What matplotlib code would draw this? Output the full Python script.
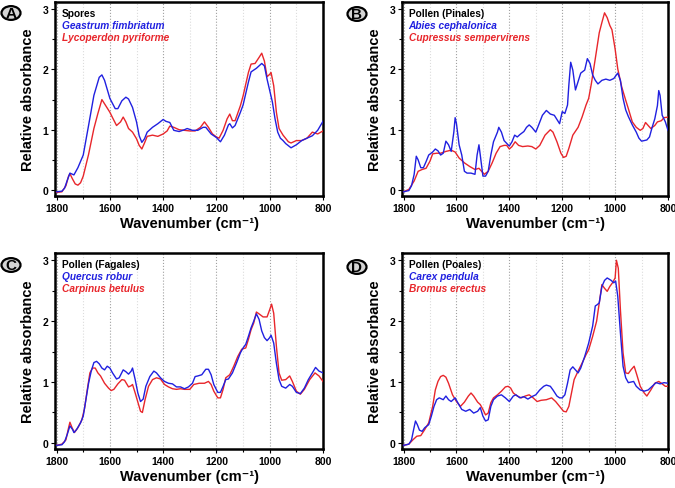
import matplotlib
matplotlib.use("Agg")
import matplotlib.pyplot as plt
from matplotlib.patches import Circle
from matplotlib.ticker import MultipleLocator

plt.rcParams['font.family'] = ['Liberation Sans', 'DejaVu Sans']
plt.rcParams['font.weight'] = 'bold'

BLUE = '#2020e0'
RED = '#e8262b'

# ---- panel A: spores
geastrum_wn = [1800, 1780, 1770, 1760, 1750, 1745, 1735, 1720, 1700, 1680, 1660, 1640, 1630, 1620, 1600,
               1580, 1570, 1555, 1540, 1530, 1515, 1500, 1490, 1480, 1470, 1460, 1440, 1420, 1400, 1390,
               1375, 1360, 1340, 1320, 1310, 1290, 1270, 1250, 1240, 1220, 1200, 1185, 1170, 1155, 1150,
               1140, 1130, 1110, 1100, 1080, 1070, 1050, 1030, 1020, 1010, 1000, 990, 980, 970, 960,
               950, 940, 920, 900, 880, 860, 840, 820, 800]
geastrum_ab = [-0.03, -0.02, 0.03, 0.16, 0.28, 0.27, 0.25, 0.37, 0.58, 1.07, 1.57, 1.87, 1.91, 1.82, 1.52,
               1.35, 1.35, 1.48, 1.54, 1.51, 1.37, 1.13, 0.90, 0.79, 0.85, 0.96, 1.04, 1.10, 1.17, 1.14,
               1.12, 0.99, 0.97, 1.00, 1.02, 0.99, 0.99, 1.04, 1.04, 0.93, 0.87, 0.80, 0.91, 1.08, 1.10,
               1.03, 1.07, 1.29, 1.41, 1.79, 1.96, 2.02, 2.10, 2.06, 1.84, 1.65, 1.46, 1.18, 0.96, 0.86,
               0.82, 0.77, 0.70, 0.75, 0.82, 0.86, 0.90, 0.99, 1.14]
lycoperdon_wn = [1800, 1780, 1765, 1755, 1750, 1740, 1730, 1720, 1710, 1700, 1680, 1660, 1645, 1630, 1620,
                 1600, 1590, 1575, 1560, 1550, 1540, 1530, 1515, 1500, 1490, 1480, 1470, 1460, 1440, 1420,
                 1400, 1385, 1375, 1360, 1340, 1320, 1300, 1280, 1260, 1245, 1230, 1215, 1200, 1190, 1175,
                 1160, 1150, 1140, 1130, 1110, 1100, 1080, 1070, 1055, 1040, 1030, 1020, 1010, 1000, 995,
                 985, 975, 965, 950, 930, 920, 900, 880, 860, 840, 820, 800]
lycoperdon_ab = [-0.04, -0.03, 0.07, 0.23, 0.27, 0.18, 0.10, 0.08, 0.12, 0.23, 0.59, 1.02, 1.27, 1.50, 1.43,
                 1.29, 1.20, 1.07, 1.13, 1.21, 1.13, 1.02, 0.96, 0.85, 0.74, 0.68, 0.78, 0.89, 0.91, 0.89,
                 0.93, 0.98, 1.06, 1.04, 1.00, 0.99, 0.98, 0.98, 1.04, 1.13, 1.04, 0.93, 0.88, 0.86, 0.99,
                 1.18, 1.26, 1.15, 1.15, 1.40, 1.56, 1.95, 2.09, 2.10, 2.20, 2.27, 2.14, 1.88, 1.92, 1.95,
                 1.73, 1.29, 1.02, 0.91, 0.80, 0.78, 0.82, 0.82, 0.86, 0.96, 0.93, 0.98]

# ---- panel B: pollen (Pinales)
abies_wn = [1800, 1780, 1770, 1760, 1752, 1745, 1735, 1725, 1715, 1705, 1690, 1680, 1670, 1660, 1650,
            1640, 1630, 1620, 1610, 1605, 1600, 1590, 1580, 1570, 1560, 1545, 1530, 1522, 1515, 1510,
            1500, 1490, 1480, 1470, 1460, 1445, 1440, 1430, 1420, 1405, 1400, 1390, 1380, 1370, 1360,
            1345, 1335, 1325, 1315, 1300, 1290, 1275, 1260, 1245, 1230, 1220, 1210, 1200, 1190, 1180,
            1175, 1168, 1160, 1150, 1140, 1130, 1115, 1105, 1095, 1085, 1075, 1065, 1050, 1035, 1020,
            1005, 990, 980, 970, 960, 950, 935, 920, 910, 900, 880, 870, 860, 850, 840,
            835, 830, 822, 810, 800]
abies_ab = [-0.03, -0.01, 0.07, 0.26, 0.56, 0.50, 0.37, 0.37, 0.47, 0.58, 0.63, 0.68, 0.65, 0.58, 0.61,
            0.81, 0.75, 0.64, 0.96, 1.20, 1.10, 0.75, 0.58, 0.31, 0.28, 0.28, 0.26, 0.58, 0.75, 0.58,
            0.23, 0.23, 0.31, 0.58, 0.80, 0.96, 1.04, 0.96, 0.82, 0.75, 0.73, 0.80, 0.91, 0.88, 0.92,
            0.97, 1.04, 1.08, 1.04, 0.96, 1.07, 1.24, 1.32, 1.26, 1.24, 1.17, 1.10, 1.30, 1.27, 1.41,
            1.74, 2.12, 1.99, 1.66, 1.80, 1.94, 1.99, 2.18, 2.10, 1.91, 1.82, 1.76, 1.82, 1.84, 1.82,
            1.85, 1.94, 1.82, 1.52, 1.33, 1.22, 1.08, 0.96, 0.86, 0.81, 0.83, 0.88, 1.04, 1.18, 1.40,
            1.65, 1.57, 1.24, 1.13, 0.99]
cupressus_wn = [1800, 1780, 1760, 1745, 1730, 1715, 1700, 1690, 1675, 1660, 1640, 1620, 1605, 1590, 1570,
                1550, 1530, 1515, 1505, 1495, 1480, 1465, 1450, 1435, 1420, 1410, 1400, 1390, 1378, 1365,
                1350, 1330, 1315, 1300, 1285, 1265, 1245, 1235, 1220, 1205, 1195, 1185, 1175, 1160, 1140,
                1125, 1110, 1100, 1090, 1075, 1060, 1050, 1040, 1030, 1020, 1012, 1000, 990, 975, 960,
                950, 935, 920, 905, 895, 885, 875, 865, 850, 840, 825, 815, 800]
cupressus_ab = [-0.03, 0.01, 0.15, 0.31, 0.34, 0.36, 0.48, 0.60, 0.61, 0.61, 0.64, 0.66, 0.63, 0.53, 0.45,
                0.39, 0.34, 0.36, 0.31, 0.26, 0.31, 0.45, 0.61, 0.72, 0.74, 0.74, 0.68, 0.72, 0.80, 0.74,
                0.72, 0.73, 0.72, 0.68, 0.74, 0.91, 1.00, 0.96, 0.80, 0.61, 0.54, 0.56, 0.69, 0.91, 1.04,
                1.21, 1.41, 1.52, 1.76, 2.18, 2.61, 2.78, 2.94, 2.86, 2.73, 2.66, 2.34, 2.01, 1.71, 1.49,
                1.35, 1.13, 1.04, 0.99, 1.02, 1.12, 1.07, 1.02, 1.07, 1.13, 1.15, 1.20, 1.21]

# ---- panel C: pollen (Fagales)
quercus_wn = [1800, 1780, 1770, 1760, 1750, 1740, 1735, 1725, 1710, 1700, 1690, 1680, 1670, 1660, 1650,
              1640, 1630, 1620, 1610, 1600, 1590, 1575, 1565, 1550, 1540, 1530, 1520, 1515, 1505, 1495,
              1485, 1475, 1465, 1450, 1435, 1425, 1410, 1395, 1380, 1365, 1350, 1335, 1320, 1305, 1290,
              1280, 1270, 1255, 1240, 1230, 1220, 1210, 1195, 1185, 1175, 1165, 1155, 1140, 1125, 1110,
              1100, 1090, 1080, 1070, 1060, 1050, 1040, 1030, 1020, 1010, 1000, 995, 985, 975, 965,
              955, 940, 925, 915, 900, 885, 870, 855, 840, 828, 815, 800]
quercus_ab = [-0.04, -0.03, 0.02, 0.14, 0.28, 0.22, 0.17, 0.22, 0.33, 0.44, 0.71, 0.98, 1.18, 1.32, 1.34,
              1.30, 1.23, 1.20, 1.26, 1.23, 1.15, 1.05, 1.07, 1.20, 1.17, 1.13, 1.18, 1.23, 1.04, 0.82,
              0.68, 0.72, 0.93, 1.09, 1.18, 1.15, 1.07, 1.01, 0.98, 0.97, 0.92, 0.92, 0.89, 0.92, 0.98,
              1.09, 1.10, 1.12, 1.21, 1.21, 1.12, 0.96, 0.83, 0.83, 0.93, 1.04, 1.05, 1.15, 1.31, 1.48,
              1.56, 1.62, 1.75, 1.89, 2.00, 2.12, 2.03, 1.84, 1.73, 1.68, 1.73, 1.77, 1.64, 1.31, 1.04,
              0.93, 0.90, 0.96, 0.93, 0.83, 0.81, 0.90, 1.04, 1.15, 1.24, 1.18, 1.15]
carpinus_wn = [1800, 1780, 1765, 1755, 1750, 1742, 1733, 1720, 1705, 1695, 1685, 1675, 1665, 1655, 1645,
               1635, 1620, 1605, 1595, 1585, 1570, 1555, 1545, 1530, 1520, 1515, 1505, 1495, 1485, 1478,
               1468, 1455, 1440, 1425, 1410, 1395, 1380, 1365, 1350, 1335, 1320, 1300, 1285, 1265, 1245,
               1230, 1220, 1210, 1195, 1185, 1175, 1165, 1150, 1135, 1120, 1105, 1090, 1080, 1070, 1060,
               1050, 1040, 1025, 1010, 1000, 993, 985, 975, 965, 955, 940, 925, 915, 900, 885,
               870, 850, 830, 815, 800]
carpinus_ab = [-0.04, -0.02, 0.05, 0.25, 0.34, 0.25, 0.17, 0.25, 0.38, 0.57, 0.87, 1.15, 1.23, 1.23, 1.15,
               1.10, 0.98, 0.90, 0.86, 0.88, 0.97, 1.04, 1.03, 0.92, 0.94, 0.96, 0.82, 0.67, 0.52, 0.50,
               0.71, 0.93, 1.04, 1.07, 1.05, 0.96, 0.92, 0.89, 0.88, 0.89, 0.88, 0.88, 0.96, 0.98, 0.98,
               1.01, 0.96, 0.85, 0.74, 0.74, 0.88, 1.07, 1.12, 1.26, 1.42, 1.54, 1.56, 1.70, 1.86, 1.97,
               2.15, 2.12, 2.07, 2.07, 2.19, 2.28, 2.13, 1.59, 1.15, 1.03, 1.04, 1.10, 1.01, 0.85, 0.80,
               0.88, 1.04, 1.15, 1.10, 1.01]

# ---- panel D: pollen (Poales)
carex_wn = [1800, 1780, 1770, 1762, 1755, 1748, 1740, 1730, 1720, 1705, 1695, 1685, 1675, 1665, 1650,
            1640, 1630, 1620, 1605, 1595, 1580, 1565, 1550, 1535, 1520, 1510, 1500, 1490, 1480, 1470,
            1460, 1445, 1430, 1415, 1400, 1385, 1375, 1360, 1345, 1330, 1315, 1300, 1285, 1270, 1260,
            1245, 1235, 1220, 1210, 1200, 1190, 1180, 1170, 1160, 1150, 1140, 1130, 1115, 1100, 1085,
            1075, 1068, 1060, 1050, 1040, 1030, 1015, 1005, 998, 990, 980, 970, 960, 950, 940,
            930, 920, 905, 890, 875, 860, 845, 830, 815, 800]
carex_ab = [-0.04, -0.02, 0.05, 0.22, 0.36, 0.30, 0.21, 0.19, 0.25, 0.30, 0.44, 0.60, 0.71, 0.74, 0.71,
            0.77, 0.71, 0.68, 0.74, 0.66, 0.55, 0.52, 0.55, 0.49, 0.52, 0.58, 0.44, 0.36, 0.38, 0.60,
            0.71, 0.77, 0.79, 0.74, 0.68, 0.77, 0.79, 0.74, 0.76, 0.72, 0.76, 0.79, 0.87, 0.93, 0.95,
            0.93, 0.87, 0.77, 0.74, 0.74, 0.79, 0.98, 1.20, 1.25, 1.20, 1.15, 1.23, 1.42, 1.64, 1.92,
            2.25, 2.27, 2.30, 2.57, 2.67, 2.71, 2.67, 2.63, 2.66, 2.41, 1.81, 1.26, 1.07, 0.99, 1.00,
            1.01, 0.93, 0.87, 0.85, 0.87, 0.93, 0.99, 0.97, 0.99, 0.98]
bromus_wn = [1800, 1780, 1765, 1750, 1735, 1720, 1705, 1690, 1680, 1670, 1660, 1650, 1640, 1630, 1615,
             1600, 1585, 1570, 1555, 1545, 1535, 1520, 1510, 1500, 1490, 1480, 1470, 1460, 1445, 1430,
             1415, 1405, 1395, 1385, 1370, 1355, 1340, 1325, 1310, 1295, 1280, 1260, 1240, 1225, 1210,
             1195, 1185, 1175, 1165, 1155, 1140, 1125, 1110, 1100, 1085, 1070, 1060, 1050, 1040, 1030,
             1020, 1010, 1000, 995, 988, 980, 970, 960, 950, 940, 928, 918, 905, 890, 880,
             865, 850, 835, 825, 810, 800]
bromus_ab = [-0.04, -0.02, 0.05, 0.11, 0.12, 0.22, 0.33, 0.60, 0.87, 1.01, 1.09, 1.11, 1.08, 0.98, 0.79,
             0.68, 0.60, 0.67, 0.77, 0.82, 0.77, 0.67, 0.63, 0.55, 0.46, 0.49, 0.66, 0.74, 0.79, 0.85,
             0.92, 0.93, 0.90, 0.82, 0.77, 0.74, 0.77, 0.79, 0.74, 0.68, 0.70, 0.71, 0.74, 0.68, 0.60,
             0.52, 0.51, 0.60, 0.82, 1.04, 1.18, 1.31, 1.45, 1.53, 1.75, 2.00, 2.30, 2.60, 2.54, 2.49,
             2.57, 2.63, 2.71, 3.00, 2.87, 2.19, 1.48, 1.15, 1.14, 1.20, 1.26, 1.12, 0.93, 0.82, 0.77,
             0.87, 0.98, 1.01, 0.98, 0.93, 0.93]

panels = [
    ('A', 'Spores', 'Geastrum fimbriatum', geastrum_wn, geastrum_ab,
     'Lycoperdon pyriforme', lycoperdon_wn, lycoperdon_ab),
    ('B', 'Pollen (Pinales)', 'Abies cephalonica', abies_wn, abies_ab,
     'Cupressus sempervirens', cupressus_wn, cupressus_ab),
    ('C', 'Pollen (Fagales)', 'Quercus robur', quercus_wn, quercus_ab,
     'Carpinus betulus', carpinus_wn, carpinus_ab),
    ('D', 'Pollen (Poales)', 'Carex pendula', carex_wn, carex_ab,
     'Bromus erectus', bromus_wn, bromus_ab),
]

# axes boxes in pixels (left, top, right, bottom) on a 675x489 canvas
boxes = [(55, 3, 323, 197), (402, 3, 668, 197), (55, 254, 323, 450), (402, 254, 668, 450)]
circles = [(11, 14), (357, 15), (11, 266), (357, 268)]

W, H = 675, 489
fig = plt.figure(figsize=(6.75, 4.89), dpi=100)

for (letter, group, n1, w1, a1, n2, w2, a2), (l, t, r, b), (cx, cy) in zip(panels, boxes, circles):
    ax = fig.add_axes([l / W, 1 - b / H, (r - l) / W, (b - t) / H])
    ax.plot(w2, a2, color=RED, lw=1.0, zorder=3)
    ax.plot(w1, a1, color=BLUE, lw=1.0, zorder=4)
    ax.set_xlim(1806, 800)
    ax.set_ylim(-0.1, 3.12)
    ax.xaxis.set_major_locator(MultipleLocator(200))
    ax.xaxis.set_minor_locator(MultipleLocator(100))
    ax.yaxis.set_major_locator(MultipleLocator(1))
    ax.yaxis.set_minor_locator(MultipleLocator(0.5))
    ax.grid(True, which='major', axis='x', color='#a0a0a0', ls=':', lw=0.8)
    ax.grid(True, which='minor', axis='x', color='#dcdcdc', ls=':', lw=0.8)
    ax.set_axisbelow(True)
    for s in ax.spines.values():
        s.set_linewidth(1.8)
    ax.tick_params(which='both', direction='out', width=0.8, labelsize=7.5, pad=2)
    ax.tick_params(which='major', length=3)
    ax.tick_params(which='minor', length=2)
    for lab in ax.get_xticklabels() + ax.get_yticklabels():
        lab.set_fontweight('bold')
    ax.set_xlabel('Wavenumber (cm\u207b\u00b9)', fontsize=10.5, fontweight='bold', labelpad=2)
    ax.set_ylabel('Relative absorbance', fontsize=10.5, fontweight='bold', labelpad=5)

    ax.text(0.025, 0.944, group, transform=ax.transAxes, fontsize=7.3, fontweight='bold',
            color='black', va='center')
    ax.text(0.025, 0.882, n1, transform=ax.transAxes, fontsize=7.3, fontweight='bold',
            style='italic', color=BLUE, va='center')
    ax.text(0.025, 0.820, n2, transform=ax.transAxes, fontsize=7.3, fontweight='bold',
            style='italic', color=RED, va='center')

    fig.patches.append(Circle((cx / W, 1 - cy / H), 9.5 / W, transform=fig.transFigure,
                              facecolor='#d4d4d4', edgecolor='black', lw=1.6))
    fig.text(cx / W, 1 - cy / H, letter, ha='center', va='center', fontsize=11,
             fontweight='bold')

fig.savefig('out.png', dpi=100)
